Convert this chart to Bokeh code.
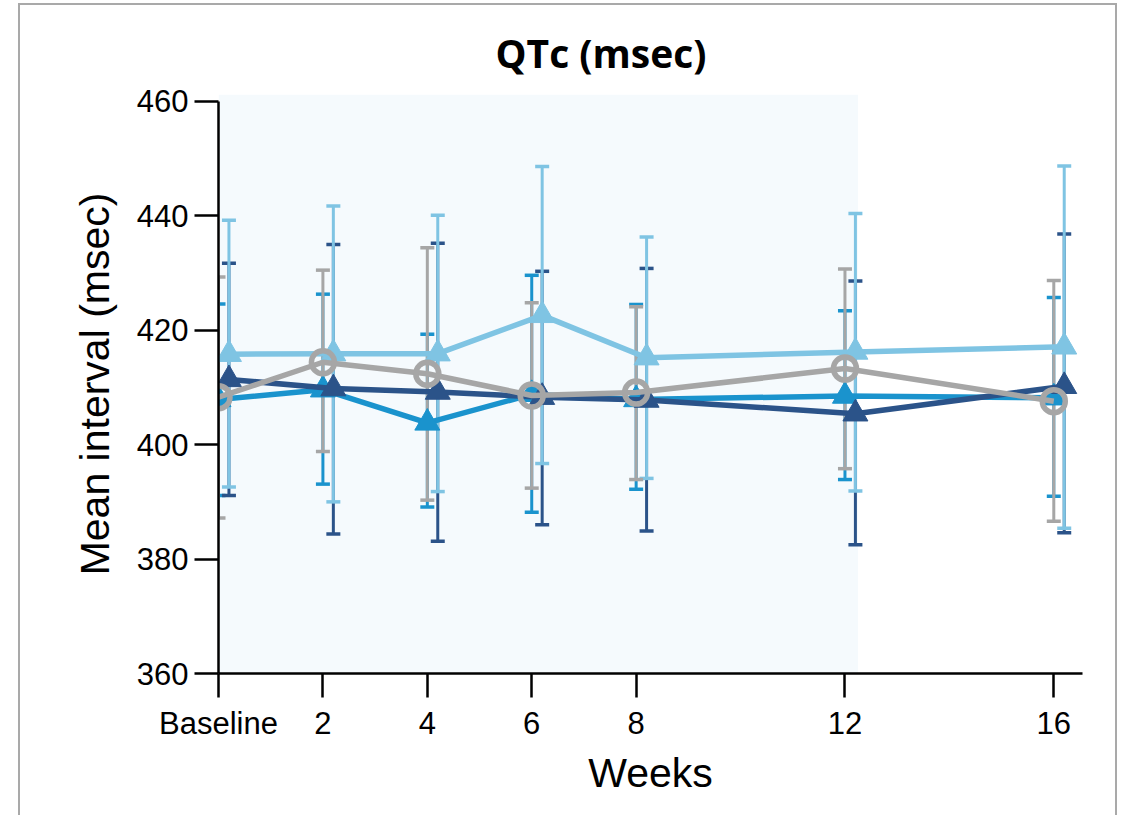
import math
from bokeh.plotting import figure
from bokeh.models import Range1d, FixedTicker, BoxAnnotation, ColumnDataSource
from bokeh.embed import file_html
from bokeh.resources import INLINE

# ---- data ----
weeks = [0, 2, 4, 6, 8, 12, 16]
tick_labels = ["Baseline", "2", "4", "6", "8", "12", "16"]

navy_mean = [411.4, 409.8, 409.2, 408.3, 407.8, 405.4, 410.2]
navy_upper = [431.7, 435.0, 435.2, 430.3, 430.8, 428.6, 436.8]
navy_lower = [391.1, 384.4, 383.1, 386.0, 384.9, 382.5, 384.6]

medblue_mean = [407.9, 409.6, 403.8, 408.8, 407.9, 408.5, 408.2]
medblue_upper = [424.6, 426.3, 419.3, 429.6, 424.5, 423.4, 425.7]
medblue_lower = [391.1, 393.1, 389.1, 388.2, 392.2, 393.9, 391.0]

lightblue_mean = [415.8, 415.9, 415.9, 422.6, 415.2, 416.2, 417.1]
lightblue_upper = [439.2, 441.7, 440.1, 448.6, 436.3, 440.4, 448.7]
lightblue_lower = [392.6, 390.0, 391.8, 396.7, 394.1, 391.9, 385.4]

gray_mean = [408.3, 414.4, 412.4, 408.6, 409.1, 413.3, 407.6]
gray_upper = [429.3, 430.5, 434.4, 424.8, 424.1, 430.7, 428.7]
gray_lower = [387.2, 398.8, 390.3, 392.4, 393.9, 395.8, 386.6]

shade_end_week = 12.25

# ---- styles ----
NAVY = "#2b5389"
MED = "#1a93cd"
LIGHT = "#7fc4e3"
GRAY = "#a6a6a6"

p = figure(width=1099, height=812, output_backend="svg", toolbar_location=None,
           x_range=Range1d(0, 16.55), y_range=Range1d(360, 461.2),
           min_border_left=198, min_border_right=37, min_border_top=89, min_border_bottom=144)
p.styles = {"margin-left": "18px", "margin-top": "3px",
            "border-left": "2px solid #a9a9a9",
            "border-right": "2px solid #a9a9a9", "border-top": "2px solid #a9a9a9"}
p.outline_line_color = None
p.grid.visible = False
p.background_fill_color = "white"
p.border_fill_color = "white"

p.title.text = "QTc (msec)"
p.title.align = "left"
p.title.offset = 277
p.title.text_font = "Open Sans"
p.title.text_font_style = "bold"
p.title.text_font_size = "39px"
p.title.text_color = "black"
p.title.standoff = 31

p.add_layout(BoxAnnotation(left=0, right=shade_end_week, bottom=360, top=461.2,
                           fill_color="#f5fafd", fill_alpha=1.0, line_color=None, level="underlay"))

series = [
    (medblue_mean, medblue_upper, medblue_lower, MED, 0.0, "triangle"),
    (navy_mean, navy_upper, navy_lower, NAVY, 0.2, "triangle"),
    (lightblue_mean, lightblue_upper, lightblue_lower, LIGHT, 0.2, "triangle"),
    (gray_mean, gray_upper, gray_lower, GRAY, 0.0, "circle"),
]

# error bars first
for mean, up, lo, col, off, mk in series:
    xs = [w + off for w in weeks]
    src = ColumnDataSource(dict(x=xs, up=up, lo=lo))
    p.segment(x0="x", y0="lo", x1="x", y1="up", source=src, line_color=col, line_width=3)
    p.scatter(x="x", y="up", source=src, marker="dash", size=14, line_color=col, line_width=3.5)
    p.scatter(x="x", y="lo", source=src, marker="dash", size=14, line_color=col, line_width=3.5)

for mean, up, lo, col, off, mk in series:
    xs = [w + off for w in weeks]
    p.line(xs, mean, line_color=col, line_width=5.5)
    if mk == "triangle":
        p.scatter(xs, mean, marker="triangle", size=25, fill_color=col, line_color=col, line_width=1)
    else:
        p.scatter(xs, mean, marker="circle", size=23, fill_color=None, line_color=col, line_width=5.5)

# axes
p.xaxis.ticker = FixedTicker(ticks=weeks)
p.xaxis.major_label_overrides = {w: t for w, t in zip(weeks, tick_labels)}
p.yaxis.ticker = FixedTicker(ticks=[360, 380, 400, 420, 440, 460])
p.yaxis.bounds = (360, 460)
for ax in (p.xaxis, p.yaxis):
    ax.axis_line_width = 2.5
    ax.axis_line_color = "black"
    ax.major_tick_line_width = 2.5
    ax.major_tick_line_color = "black"
    ax.major_tick_out = 24
    ax.major_tick_in = 0
    ax.minor_tick_line_color = None
    ax.major_label_text_font = "Liberation Sans"
    ax.major_label_text_font_size = "31px"
    ax.major_label_text_color = "black"
    ax.axis_label_text_font = "Liberation Sans"
    ax.axis_label_text_font_size = "41px"
    ax.axis_label_text_font_style = "normal"
    ax.axis_label_text_color = "black"
p.yaxis.major_label_standoff = 6
p.xaxis.major_label_standoff = 8

p.xaxis.axis_label = "Weeks"
p.xaxis.axis_label_standoff = 6
p.yaxis.axis_label = "Mean interval (msec)"
p.yaxis.axis_label_standoff = 16

open("out.html", "w").write(file_html(p, INLINE))
